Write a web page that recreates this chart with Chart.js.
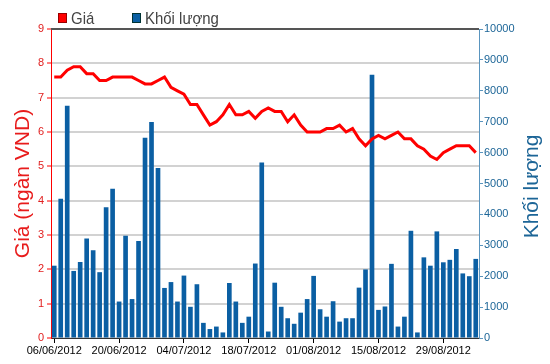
<!DOCTYPE html>
<html>
<head>
<meta charset="utf-8">
<script src="https://cdn.jsdelivr.net/npm/chart.js@4.4.0/dist/chart.umd.min.js"></script>
<style>
  body { margin: 0; background: #fff; }
  #wrap { width: 550px; height: 364px; }
</style>
</head>
<body>
<div id="wrap"><canvas id="bieuDo"></canvas></div>
<script>
// Ngày giao dịch
const ngay = [
  '06/06/2012','07/06/2012','08/06/2012','11/06/2012','12/06/2012','13/06/2012','14/06/2012','15/06/2012','18/06/2012','19/06/2012',
  '20/06/2012','21/06/2012','22/06/2012','25/06/2012','26/06/2012','27/06/2012','28/06/2012','29/06/2012','02/07/2012','03/07/2012',
  '04/07/2012','05/07/2012','06/07/2012','09/07/2012','10/07/2012','11/07/2012','12/07/2012','13/07/2012','16/07/2012','17/07/2012',
  '18/07/2012','19/07/2012','20/07/2012','23/07/2012','24/07/2012','25/07/2012','26/07/2012','27/07/2012','30/07/2012','31/07/2012',
  '01/08/2012','02/08/2012','03/08/2012','06/08/2012','07/08/2012','08/08/2012','09/08/2012','10/08/2012','13/08/2012','14/08/2012',
  '15/08/2012','16/08/2012','17/08/2012','20/08/2012','21/08/2012','22/08/2012','23/08/2012','24/08/2012','27/08/2012','28/08/2012',
  '29/08/2012','30/08/2012','31/08/2012','04/09/2012','05/09/2012','06/09/2012'
];

// Giá (ngàn VND)
const gia = [
  7.6, 7.6, 7.8, 7.9, 7.9, 7.7, 7.7, 7.5, 7.5, 7.6,
  7.6, 7.6, 7.6, 7.5, 7.4, 7.4, 7.5, 7.6, 7.3, 7.2,
  7.1, 6.8, 6.8, 6.5, 6.2, 6.3, 6.5, 6.8, 6.5, 6.5,
  6.6, 6.4, 6.6, 6.7, 6.6, 6.6, 6.3, 6.5, 6.2, 6.0,
  6.0, 6.0, 6.1, 6.1, 6.2, 6.0, 6.1, 5.8, 5.6, 5.8,
  5.9, 5.8, 5.9, 6.0, 5.8, 5.8, 5.6, 5.5, 5.3, 5.2,
  5.4, 5.5, 5.6, 5.6, 5.6, 5.4
];

// Khối lượng
const khoiLuong = [
  2340, 4510, 7520, 2170, 2460, 3220, 2840, 2130, 4230, 4830,
  1180, 3310, 1260, 3140, 6480, 6990, 5500, 1620, 1810, 1180,
  2020, 1010, 1740, 490, 290, 370, 180, 1780, 1180, 490,
  690, 2410, 5680, 210, 1790, 1010, 640, 460, 820, 1260,
  2010, 930, 690, 1190, 530, 640, 640, 1630, 2220, 8520,
  910, 1020, 2400, 370, 690, 3470, 180, 2610, 2340, 3450,
  2450, 2530, 2880, 2090, 2000, 2560
];

const truGiaTicks = [0, 1, 2, 3, 4, 5, 6, 7, 8, 9];
const nhanMoi = 10; // hiện nhãn mỗi 10 phiên

const DO = '#ff0000';
const XANH = '#0b5fa3';
const XANH_TRUC = '#1c6597';

// Vẽ chú thích, tiêu đề trục và viền trên
const trangTri = {
  id: 'trangTri',
  afterDraw(chart) {
    const ctx = chart.ctx;
    const a = chart.chartArea;
    ctx.save();

    ctx.strokeStyle = '#555';
    ctx.lineWidth = 2;
    ctx.beginPath();
    ctx.moveTo(a.left, a.top);
    ctx.lineTo(a.right, a.top);
    ctx.stroke();

    // chú thích
    ctx.fillStyle = DO;
    ctx.fillRect(58, 13, 9, 10);
    ctx.strokeStyle = '#900';
    ctx.lineWidth = 1;
    ctx.strokeRect(58.5, 13.5, 8, 9);
    ctx.fillStyle = XANH;
    ctx.fillRect(132, 13, 9, 10);
    ctx.strokeStyle = '#033';
    ctx.strokeRect(132.5, 13.5, 8, 9);

    ctx.font = '17px "Liberation Sans", Arial, sans-serif';
    ctx.textBaseline = 'alphabetic';
    ctx.textAlign = 'left';
    ctx.fillStyle = '#444';
    ctx.save();
    ctx.translate(71, 24);
    ctx.scale(0.88, 1);
    ctx.fillText('Giá', 0, 0);
    ctx.restore();
    ctx.save();
    ctx.translate(145, 24);
    ctx.scale(0.88, 1);
    ctx.fillText('Khối lượng', 0, 0);
    ctx.restore();

    // tiêu đề trục
    const giua = (a.top + a.bottom) / 2;
    ctx.font = '21px "Liberation Sans", Arial, sans-serif';
    ctx.textAlign = 'center';
    ctx.textBaseline = 'middle';
    ctx.fillStyle = '#e81c1c';
    ctx.translate(23, giua);
    ctx.rotate(-Math.PI / 2);
    ctx.fillText('Giá (ngàn VND)', 0, 0);
    ctx.setTransform(1, 0, 0, 1, 0, 0);
    ctx.fillStyle = XANH_TRUC;
    ctx.translate(532, giua + 3);
    ctx.rotate(-Math.PI / 2);
    ctx.fillText('Khối lượng', 0, 0);
    ctx.restore();
  }
};

new Chart(document.getElementById('bieuDo'), {
  type: 'bar',
  data: {
    labels: ngay,
    datasets: [{
      type: 'line',
      label: 'Giá',
      data: gia,
      yAxisID: 'y',
      borderColor: DO,
      borderWidth: 3,
      pointRadius: 0,
      tension: 0,
      order: 1
    }, {
      label: 'Khối lượng',
      data: khoiLuong,
      yAxisID: 'y1',
      backgroundColor: XANH,
      barPercentage: 0.72,
      categoryPercentage: 1.0,
      order: 2
    }]
  },
  options: {
    responsive: true,
    maintainAspectRatio: false,
    animation: false,
    layout: { padding: { top: 29, left: 0, right: 0, bottom: 0 } },
    plugins: {
      legend: { display: false },
      tooltip: { enabled: false }
    },
    scales: {
      x: {
        offset: true,
        grid: {
          offset: false,
          drawOnChartArea: false,
          tickLength: 5,
          color: c => (c.index % nhanMoi === 0 ? '#000' : 'rgba(0,0,0,0)')
        },
        border: { color: '#333' },
        ticks: {
          autoSkip: false,
          maxRotation: 0,
          padding: 1,
          color: '#000',
          font: { size: 11, family: '"Liberation Sans", Arial, sans-serif' },
          callback: (v, i) => (i % nhanMoi === 0 ? ngay[i] : '')
        },
        afterFit: s => { s.height = 26; }
      },
      y: {
        position: 'left',
        min: 0,
        max: 9,
        afterBuildTicks: s => { s.ticks = truGiaTicks.map(v => ({ value: v })); },
        grid: { color: '#d2d2d2', lineWidth: 2, tickLength: 4, tickColor: DO, tickWidth: 1 },
        border: { color: DO },
        ticks: {
          color: '#e02020',
          padding: 3,
          font: { size: 11, family: '"Liberation Sans", Arial, sans-serif' }
        },
        afterFit: s => { s.width = 51; }
      },
      y1: {
        position: 'right',
        min: 0,
        max: 10000,
        ticks: {
          stepSize: 1000,
          color: XANH_TRUC,
          padding: 1,
          font: { size: 11, family: '"Liberation Sans", Arial, sans-serif' },
          callback: v => String(v)
        },
        grid: { drawOnChartArea: false, tickLength: 4, color: '#5a95bf' },
        border: { color: '#5a95bf' },
        afterFit: s => { s.width = 71; }
      }
    }
  },
  plugins: [trangTri]
});
</script>
</body>
</html>
